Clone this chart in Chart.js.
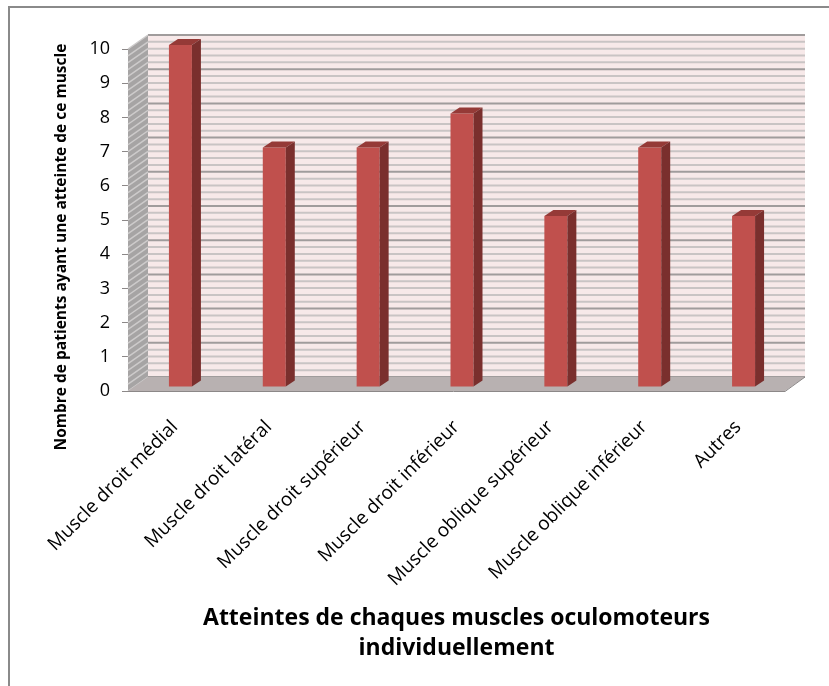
<!DOCTYPE html>
<html>
<head>
<meta charset="utf-8">
<script src="https://cdn.jsdelivr.net/npm/chart.js@4"></script>
<style>
  html, body { margin: 0; padding: 0; background: #fff; }
  #wrap { width: 829px; height: 686px; position: relative; }
</style>
</head>
<body>
<div id="wrap"><canvas id="c" width="829" height="686"></canvas></div>
<script>
const categories = [
  'Muscle droit médial',
  'Muscle droit latéral',
  'Muscle droit supérieur',
  'Muscle droit inférieur',
  'Muscle oblique supérieur',
  'Muscle oblique inférieur',
  'Autres'
];
const patients = [10, 7, 7, 8, 5, 7, 5];
const yTicks = [0, 1, 2, 3, 4, 5, 6, 7, 8, 9, 10];

const yTitle = 'Nombre de patients ayant une atteinte de ce muscle';
const xTitle = ['Atteintes de chaques muscles oculomoteurs', 'individuellement'];

// depth of the box and of the bars (3D look)
const DX = 20, DY = -14;
const BAR_OFF_X = 5.5, BAR_OFF_Y = -4;
const BAR_DX = 9, BAR_DY = -6;

const FONT = '"Open Sans", "DejaVu Sans", sans-serif';

// walls, floor and gridlines behind the bars
const box3d = {
  id: 'box3d',
  beforeDatasetsDraw(chart) {
    const { ctx, chartArea: a, scales: { y } } = chart;
    const yMin = yTicks[0], yMax = yTicks[yTicks.length - 1];
    const y0 = y.getPixelForValue(yMin), y1 = y.getPixelForValue(yMax);
    ctx.save();

    // back wall
    ctx.fillStyle = '#f7e9e9';
    ctx.fillRect(a.left + DX, y1 + DY, a.right - a.left, y0 - y1);

    // left wall
    ctx.fillStyle = '#a6a4a4';
    ctx.beginPath();
    ctx.moveTo(a.left, y0);
    ctx.lineTo(a.left + DX, y0 + DY);
    ctx.lineTo(a.left + DX, y1 + DY);
    ctx.lineTo(a.left, y1);
    ctx.closePath();
    ctx.fill();

    // minor + major gridlines (step 0.2)
    for (let i = 0; i <= (yMax - yMin) * 5; i++) {
      const v = yMin + i / 5;
      const py = y.getPixelForValue(v);
      const major = i % 5 === 0;
      ctx.lineWidth = 2;
      ctx.strokeStyle = major ? '#a09c9c' : '#c9c4c4';
      ctx.beginPath();
      ctx.moveTo(a.left + DX, py + DY);
      ctx.lineTo(a.right + DX, py + DY);
      ctx.stroke();
      ctx.lineWidth = 1.5;
      ctx.strokeStyle = '#cdcbcb';
      ctx.beginPath();
      ctx.moveTo(a.left, py);
      ctx.lineTo(a.left + DX, py + DY);
      ctx.stroke();
    }

    // floor
    ctx.fillStyle = '#b8b1b1';
    ctx.beginPath();
    ctx.moveTo(a.left, y0);
    ctx.lineTo(a.left + DX, y0 + DY);
    ctx.lineTo(a.right + DX, y0 + DY);
    ctx.lineTo(a.right, y0);
    ctx.closePath();
    ctx.fill();
    ctx.strokeStyle = '#8c8888';
    ctx.lineWidth = 1;
    ctx.beginPath();
    ctx.moveTo(a.left - 6, y0 + 0.5);
    ctx.lineTo(a.right, y0 + 0.5);
    ctx.lineTo(a.right + DX, y0 + DY);
    ctx.stroke();

    // shift bars to the middle of the depth
    ctx.restore();
    ctx.save();
    ctx.translate(BAR_OFF_X, BAR_OFF_Y);
  },
  afterDatasetsDraw(chart) {
    const { ctx } = chart;
    const meta = chart.getDatasetMeta(0);
    meta.data.forEach(bar => {
      const { x, y, base, width } = bar.getProps(['x', 'y', 'base', 'width'], true);
      const x0 = x - width / 2, x1 = x + width / 2;
      // top face
      ctx.fillStyle = '#953a37';
      ctx.beginPath();
      ctx.moveTo(x0, y);
      ctx.lineTo(x0 + BAR_DX, y + BAR_DY);
      ctx.lineTo(x1 + BAR_DX, y + BAR_DY);
      ctx.lineTo(x1, y);
      ctx.closePath();
      ctx.fill();
      // side face
      ctx.fillStyle = '#7a2f2d';
      ctx.beginPath();
      ctx.moveTo(x1, y);
      ctx.lineTo(x1 + BAR_DX, y + BAR_DY);
      ctx.lineTo(x1 + BAR_DX, base + BAR_DY);
      ctx.lineTo(x1, base);
      ctx.closePath();
      ctx.fill();
    });
    ctx.restore();
  },
  afterDraw(chart) {
    const { ctx } = chart;
    ctx.save();
    // outer frame (left and top edges only are in view)
    ctx.strokeStyle = '#8a8a8a';
    ctx.lineWidth = 2;
    ctx.beginPath();
    ctx.moveTo(9, 690);
    ctx.lineTo(9, 7);
    ctx.lineTo(832, 7);
    ctx.stroke();
    // y axis title
    ctx.fillStyle = '#000';
    ctx.font = 'bold 15.5px ' + FONT;
    ctx.textAlign = 'center';
    ctx.textBaseline = 'middle';
    ctx.translate(62, 247);
    ctx.rotate(-Math.PI / 2);
    ctx.fillText(yTitle, 0, 0);
    ctx.restore();
  }
};

new Chart(document.getElementById('c'), {
  type: 'bar',
  data: {
    labels: categories,
    datasets: [{
      data: patients,
      backgroundColor: '#c0504d',
      borderWidth: 0,
      categoryPercentage: 1,
      barPercentage: 0.245
    }]
  },
  options: {
    responsive: false,
    animation: false,
    layout: { padding: { left: 0, top: 49, right: 44, bottom: 0 } },
    plugins: { legend: { display: false }, tooltip: { enabled: false } },
    scales: {
      y: {
        min: 0, max: 10,
        afterFit(s) { s.width = 128; },
        afterBuildTicks(s) { s.ticks = yTicks.map(v => ({ value: v })); },
        grid: { drawOnChartArea: false, drawTicks: true, tickLength: 6, color: '#8c8888' },
        border: { display: false },
        ticks: { color: '#000', padding: 12, font: { family: FONT, size: 18 } }
      },
      x: {
        afterFit(s) { s.height = 295; },
        grid: { display: false },
        border: { display: false },
        ticks: {
          autoSkip: false, minRotation: 45, maxRotation: 45,
          padding: 17, color: '#000',
          font: { family: FONT, size: 19 }
        },
        title: {
          display: true, text: xTitle, color: '#000',
          font: { family: FONT, size: 23, weight: 'bold', lineHeight: 1.3 },
          padding: { top: 0, bottom: 23 }
        }
      }
    }
  },
  plugins: [box3d]
});
</script>
</body>
</html>
